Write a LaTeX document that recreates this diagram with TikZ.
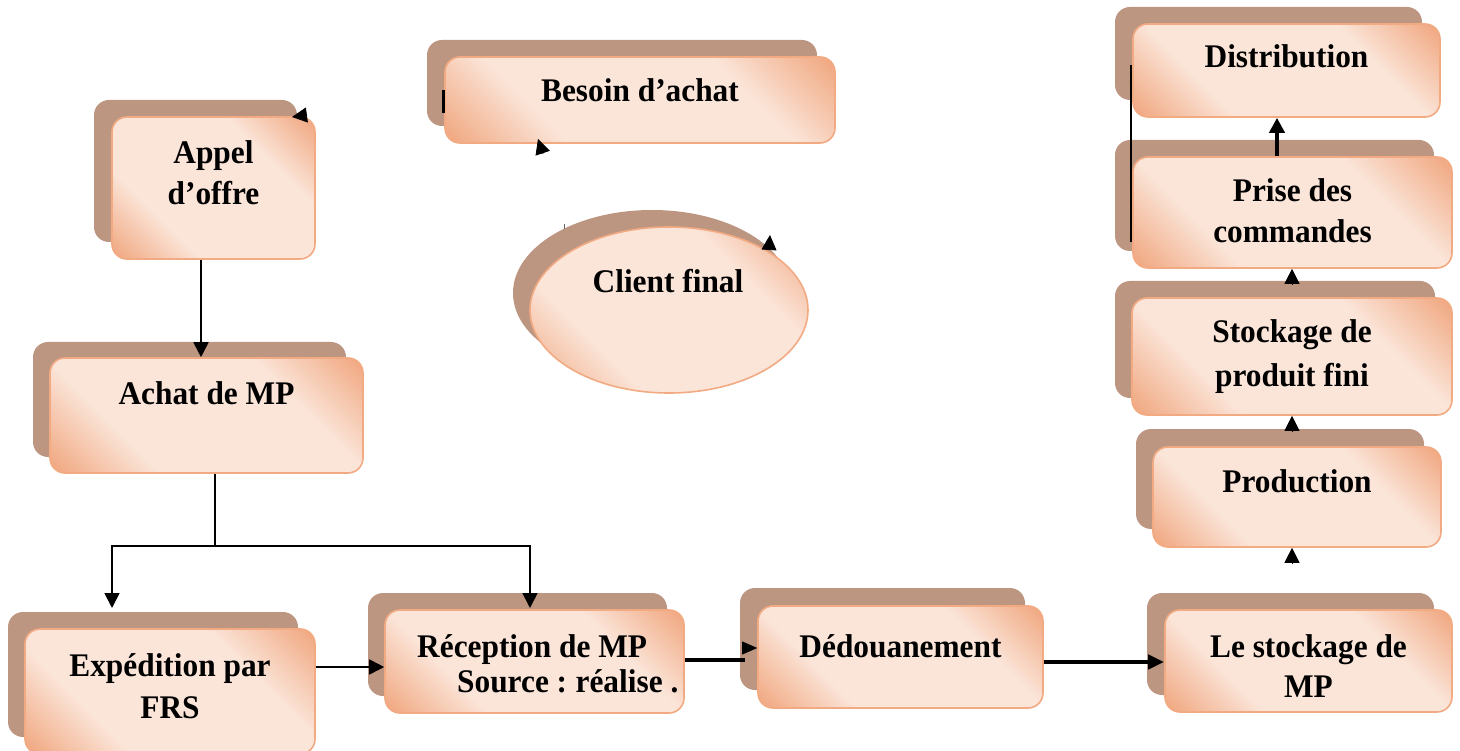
\documentclass[tikz,border=0pt]{standalone}
\usepackage{fontspec}
\setmainfont{Liberation Serif}[FakeStretch=0.95]
\usetikzlibrary{arrows.meta,shapes.geometric,calc}

\definecolor{shadowc}{RGB}{189,150,130}
\definecolor{peach}{RGB}{251,229,217}
\definecolor{salm}{RGB}{240,166,126}
\definecolor{rim}{RGB}{242,170,130}

% diagonal peach gradient: salmon corners, pale centre band
\pgfdeclareverticalshading{peachshade}{100bp}{color(0bp)=(salm); color(15bp)=(salm); color(33bp)=(peach); color(67bp)=(peach); color(85bp)=(salm); color(100bp)=(salm)}

\pgfdeclarelayer{back}
\pgfsetlayers{back,main}

\tikzset{
  card/.style={rectangle, rounded corners=15pt, draw=rim, line width=1.6pt,
    shade, shading=peachshade, shading angle=-45, inner sep=0pt},
  cardshadow/.style={rectangle, rounded corners=15pt, fill=shadowc, inner sep=0pt},
  oval/.style={ellipse, draw=rim, line width=1.6pt,
    shade, shading=peachshade, shading angle=-45, inner sep=0pt},
  ovalshadow/.style={ellipse, fill=shadowc, inner sep=0pt},
  lbl/.style={font=\fontsize{33}{41}\selectfont\bfseries, inner sep=0pt, anchor=base},
  link/.style={line width=1.7pt, -{Triangle[length=15pt,width=15pt]}},
  plain/.style={line width=1.7pt},
  heavy/.style={line width=4.5pt},
  heavylink/.style={line width=4.5pt, -{Triangle[length=16pt,width=14pt]}},
  uplink/.style={line width=4pt, -{Triangle[length=15pt,width=15pt]}},
  tipstub/.style={line width=0.8pt, -{Triangle[length=15pt,width=15pt]}},
  smallstub/.style={line width=0.8pt, -{Triangle[length=15pt,width=13pt]}},
}

% a card with its offset drop shadow
\newcommand\cardat[5]{%
  \begin{pgfonlayer}{back}
    \node[cardshadow, minimum width=#3, minimum height=#4, #5] (#1-s) at #2 {};
  \end{pgfonlayer}
  \node[card, minimum width=#3, minimum height=#4] (#1) at #2 {};
}

\begin{document}
\begin{tikzpicture}[x=1pt,y=-1pt]
\useasboundingbox (0,0) rectangle (1460,751);

% ---- cards ----
\cardat{appel}{(213.5,188)}{203pt}{142pt}{xshift=-18pt,yshift=17pt}
\cardat{besoin}{(640,100)}{390pt}{86pt}{xshift=-18pt,yshift=17pt}
\cardat{achat}{(206.5,415.5)}{313pt}{115pt}{xshift=-17pt,yshift=16pt}
\cardat{exped}{(170,691.5)}{290pt}{125pt}{xshift=-17pt,yshift=17pt}
\cardat{recep}{(534.5,661.5)}{299pt}{103pt}{xshift=-17pt,yshift=17pt}
\cardat{dedou}{(900.5,657)}{285pt}{102pt}{xshift=-18pt,yshift=18pt}
\cardat{stockmp}{(1308.5,661)}{287pt}{102pt}{xshift=-18pt,yshift=17pt}
\cardat{prod}{(1297,497)}{288pt}{100pt}{xshift=-17pt,yshift=18pt}
\cardat{stockpf}{(1292,356.5)}{320pt}{117pt}{xshift=-17pt,yshift=17pt}
\cardat{prise}{(1292.5,212.5)}{319pt}{111pt}{xshift=-18pt,yshift=17pt}
\cardat{distr}{(1286.5,70.5)}{307pt}{93pt}{xshift=-18pt,yshift=17pt}

\begin{pgfonlayer}{back}
  \node[ovalshadow, minimum width=278pt, minimum height=166pt, xshift=-17pt, yshift=17pt] (client-s) at (669,310) {};
\end{pgfonlayer}
\node[oval, minimum width=278pt, minimum height=166pt] (client) at (669,310) {};

% ---- labels ----
\node[lbl] (appel-t) at (213.5,164) {\begin{tabular}[t]{@{}c@{}}Appel\\d’offre\end{tabular}};
\node[lbl] (besoin-t) at (640,102) {Besoin d’achat};
\node[lbl] (client-t) at (668,293) {Client final};
\node[lbl] (achat-t) at (206.5,405) {Achat de MP};
\node[lbl] (exped-t) at (170,676) {\begin{tabular}[t]{@{}c@{}}Expédition par\\[1pt]FRS\end{tabular}};
\node[lbl, anchor=base west] (recep-t) at (417,657) {\begin{tabular}[t]{@{}l@{}}Réception de MP\\[-6pt]\hspace*{40pt}Source :\hspace{-2pt} réalise .\end{tabular}};
\node[lbl] (dedou-t) at (900.5,657) {Dédouanement};
\node[lbl] (stockmp-t) at (1308.5,657) {\begin{tabular}[t]{@{}c@{}}Le stockage de\\[-1pt]MP\end{tabular}};
\node[lbl] (prod-t) at (1297,492) {Production};
\node[lbl] (stockpf-t) at (1292,343) {\begin{tabular}[t]{@{}c@{}}Stockage de\\[3pt]produit fini\end{tabular}};
\node[lbl] (prise-t) at (1292.5,202) {\begin{tabular}[t]{@{}c@{}}Prise des\\commandes\end{tabular}};
\node[lbl] (distr-t) at (1286.5,68) {Distribution};

% ---- helper levels ----
\coordinate (lvl) at (0,608);
\coordinate (fork) at (215,546);
\coordinate (exin) at (112,0);
\coordinate (rcin) at (530,0);
\coordinate (er) at (0,667);
\coordinate (rd) at (745,660);
\coordinate (rdbase) at (743,648);
\coordinate (ds) at (0,662);

% ---- left flow ----
\draw[link] ([xshift=-12.5pt]appel.south) -- ([xshift=-12.5pt]appel.south |- achat.north);
\draw[plain] ([xshift=8.5pt]achat.south) -- (fork);
\draw[link] (fork) -| (exin |- lvl);
\draw[link] (fork) -| (rcin |- lvl);
\draw[link] (exped.east |- er) -- (recep.west |- er);
\draw[heavy] (recep.east |- rd) -- (rd);
\draw[smallstub] (rdbase) -- (dedou.west |- rdbase);
\draw[heavylink] (dedou.east |- ds) -- (stockmp.west |- ds);

% ---- right column ----
\draw[tipstub] ($([xshift=-5pt]prod.south)+(0,15)$) -- ([xshift=-5pt]prod.south);
\draw[tipstub] ($(stockpf.south)+(0,15)$) -- (stockpf.south);
\draw[tipstub] ($([xshift=-0.5pt]prise.south)+(0,15)$) -- ([xshift=-0.5pt]prise.south);
\draw[uplink] ([xshift=-15.5pt]prise.north) -- ([xshift=-9.5pt]distr.south);
\coordinate (dtop) at (1131,65);
\coordinate (dbot) at (1131,242);
\draw[line width=2pt] (dtop) -- (dbot);

% ---- loose arrow ends around the top cards ----
\coordinate (fa0) at (307,115);
\coordinate (fa1) at (292,117);
\draw[tipstub] (fa0) -- (fa1);
\coordinate (fb0) at (543,154);
\coordinate (fb1) at (538,139);
\draw[tipstub] (fb0) -- (fb1);
\coordinate (fc0) at (769,250);
\coordinate (fc1) at (770,235);
\draw[tipstub] (fc0) -- (fc1);
\coordinate (tb0) at (443.5,90);
\coordinate (tb1) at (443.5,113);
\draw[line width=2.5pt] (tb0) -- (tb1);
\coordinate (tc0) at (564,224);
\coordinate (tc1) at (564,229);
\draw[line width=0.8pt, black!60] (tc0) -- (tc1);
\end{tikzpicture}
\end{document}
